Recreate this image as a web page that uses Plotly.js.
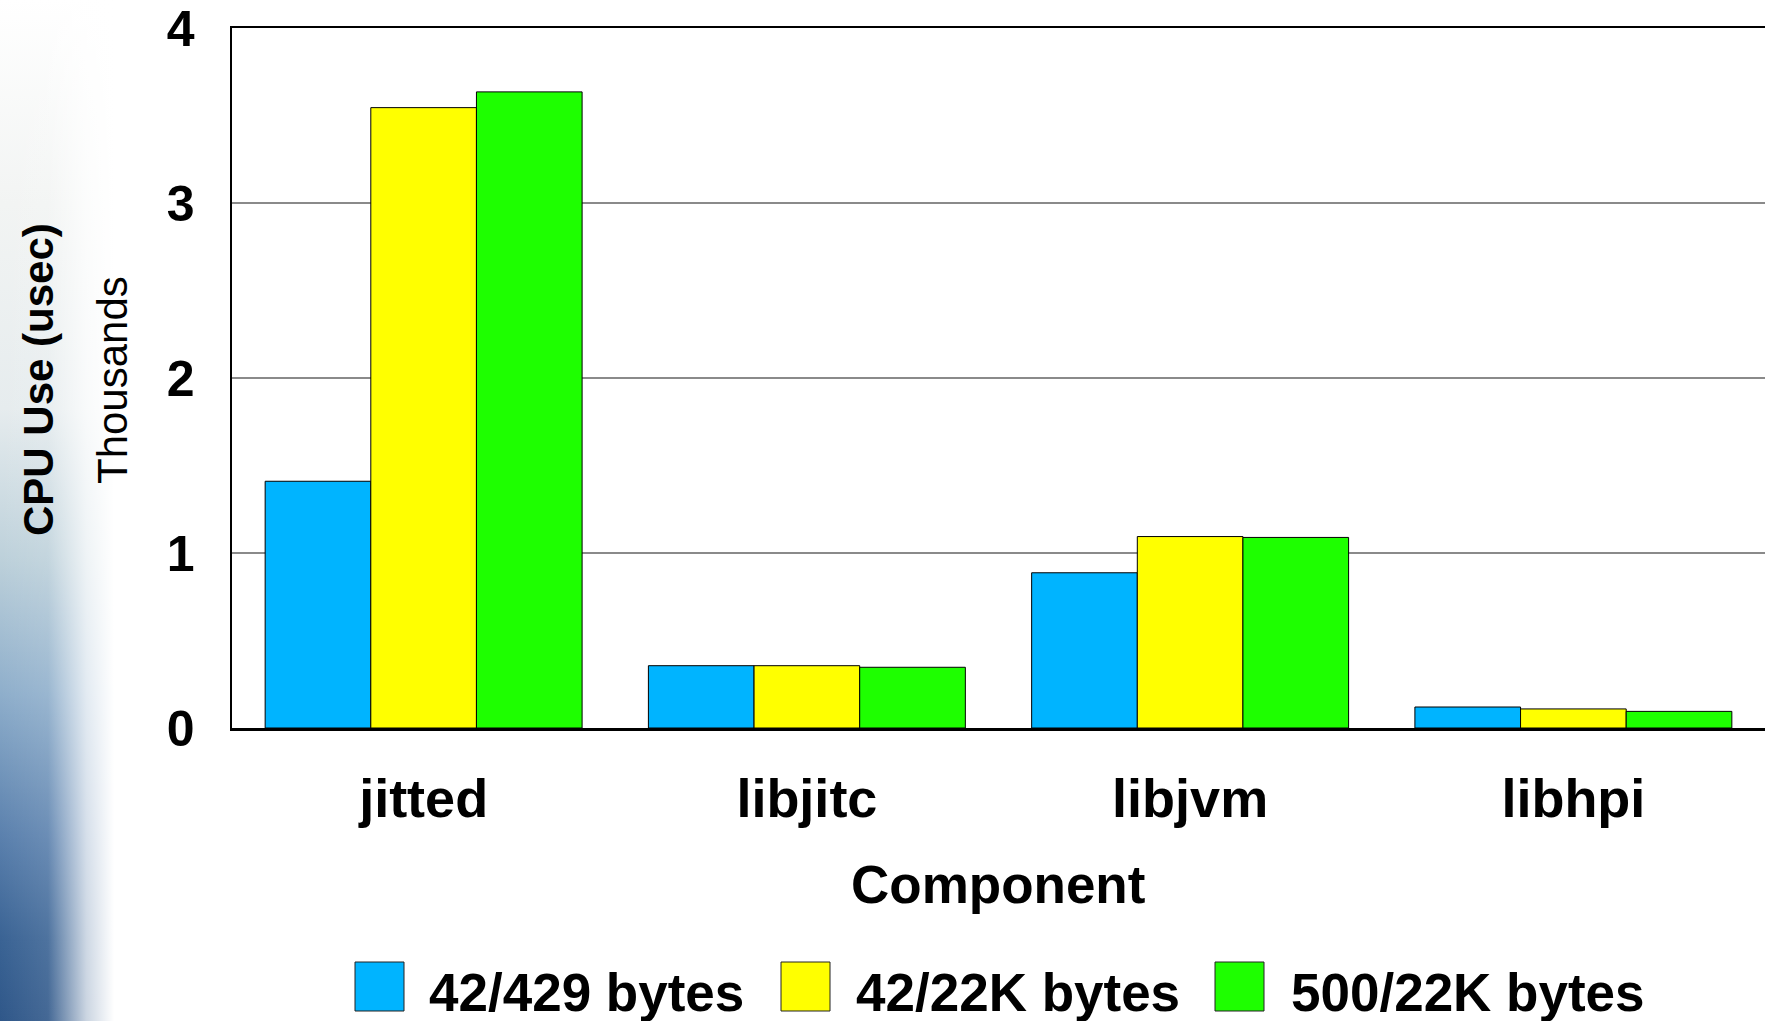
<!DOCTYPE html>
<html>
<head>
<meta charset="utf-8">
<script src="https://cdn.plot.ly/plotly-3.0.1.min.js"></script>
<style>
  html, body { margin: 0; padding: 0; background: #ffffff; }
  #wrap { position: relative; width: 1765px; height: 1021px; overflow: hidden; }
  #deco { position: absolute; left: 0; top: 0; width: 120px; height: 1021px;
    background: linear-gradient(to bottom, #ffffff 0%, #f2f4f3 20%, #e6ecee 40%, #bcd0da 55%, #8eaecb 68%, #5a80ad 82%, #3a6394 92%, #2f5789 100%); }
  #fade { position: absolute; left: 0; top: 0; width: 120px; height: 1021px;
    background: linear-gradient(to right, rgba(255,255,255,0) 0%, rgba(255,255,255,0.1) 40%, rgba(255,255,255,0.75) 72%, #ffffff 95%); }
  #chart { position: absolute; left: 0; top: 0; }
</style>
</head>
<body>
<div id="wrap">
  <div id="deco"></div>
  <div id="fade"></div>
  <div id="chart"></div>
</div>
<script>
// ---- data (values in thousands of usec) ----
const categories = ['jitted', 'libjitc', 'libjvm', 'libhpi'];
const seriesNames = ['42/429 bytes', '42/22K bytes', '500/22K bytes'];
const small429 = [1.41, 0.356, 0.887, 0.120];
const small22k = [3.545, 0.356, 1.094, 0.109];
const big22k = [3.635, 0.347, 1.089, 0.095];
const yTicks = [0, 1, 2, 3, 4];
const xTitle = 'Component';
const yTitle = 'CPU Use (usec)';
const yUnit = 'Thousands';

// ---- styles ----
const colors = ['#00B4FF', '#FFFF00', '#1EFF00'];
const FONT = '"Liberation Sans", Arial, Helvetica, sans-serif';
const W = 1765, H = 1021;
const M = { l: 232, r: 0, t: 28, b: 293 };
const PW = W - M.l - M.r, PH = H - M.t - M.b;
const px = x => (x - M.l) / PW;          // pixel -> paper x
const py = y => (H - M.b - y) / PH;      // pixel -> paper y

const seriesValues = [small429, small22k, big22k];
const traces = seriesValues.map((vals, i) => ({
  type: 'bar',
  name: seriesNames[i],
  x: categories,
  y: vals,
  marker: { color: colors[i], line: { color: '#000000', width: 1 } },
  hoverinfo: 'x+y+name'
}));

// custom legend (large swatches as in the reference)
const legendPos = [
  { sx0: 355, sx1: 404, tx: 427 },
  { sx0: 781, sx1: 830, tx: 854 },
  { sx0: 1215, sx1: 1264, tx: 1289 }
];
const shapes = legendPos.map((p, i) => ({
  type: 'rect', xref: 'paper', yref: 'paper',
  x0: px(p.sx0), x1: px(p.sx1), y0: py(962), y1: py(1011),
  fillcolor: colors[i], line: { color: '#222222', width: 1 }
}));
const annotations = legendPos.map((p, i) => ({
  xref: 'paper', yref: 'paper', x: px(p.tx), y: py(992),
  xanchor: 'left', yanchor: 'middle', showarrow: false,
  text: seriesNames[i],
  font: { family: FONT, size: 53, weight: 'bold', color: '#000000' }
}));
annotations.push({
  xref: 'paper', yref: 'paper', x: px(38), y: py(380),
  xanchor: 'center', yanchor: 'middle', showarrow: false, textangle: -90,
  text: yTitle,
  font: { family: FONT, size: 42, weight: 'bold', color: '#000000' }
});
annotations.push({
  xref: 'paper', yref: 'paper', x: px(112), y: py(380),
  xanchor: 'center', yanchor: 'middle', showarrow: false, textangle: -90,
  text: yUnit,
  font: { family: FONT, size: 42, color: '#000000' }
});
annotations.push({
  xref: 'paper', yref: 'paper', x: px(998), y: py(884),
  xanchor: 'center', yanchor: 'middle', showarrow: false,
  text: xTitle,
  font: { family: FONT, size: 53, weight: 'bold', color: '#000000' }
});

const layout = {
  width: W, height: H,
  margin: M,
  paper_bgcolor: 'rgba(0,0,0,0)',
  plot_bgcolor: '#ffffff',
  showlegend: false,
  barmode: 'group',
  bargap: 0.173,
  bargroupgap: 0,
  font: { family: FONT, color: '#000000' },
  xaxis: {
    type: 'category',
    range: [-0.5, 3.5],
    showline: true, linecolor: '#000000', linewidth: 2.5, mirror: true,
    showgrid: false, ticks: '',
    ticklabelstandoff: 22,
    tickfont: { family: FONT, size: 54, weight: 'bold', color: '#000000' }
  },
  yaxis: {
    range: [0, 4],
    tickvals: yTicks,
    ticktext: yTicks.map(String),
    showline: true, linecolor: '#000000', linewidth: 2.5,
    showgrid: true, gridcolor: '#8a8a8a', gridwidth: 1.5,
    zeroline: false, ticks: '',
    ticklabelstandoff: 25,
    tickfont: { family: FONT, size: 50, weight: 'bold', color: '#000000' }
  },
  shapes: shapes,
  annotations: annotations
};

Plotly.newPlot('chart', traces, layout, { displayModeBar: false, staticPlot: true });
</script>
</body>
</html>
